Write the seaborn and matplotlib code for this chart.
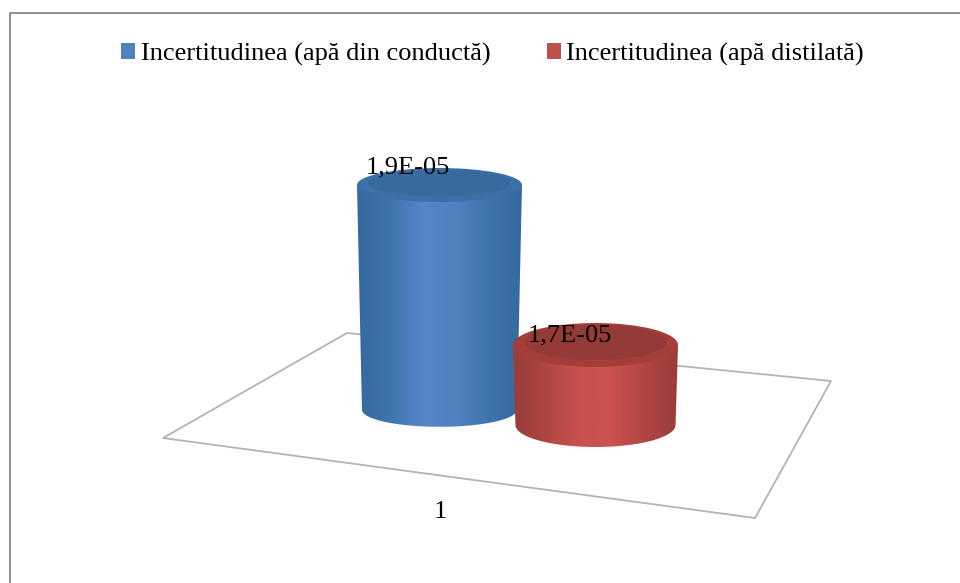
import numpy as np
import pandas as pd
import matplotlib
matplotlib.use("Agg")
import matplotlib.pyplot as plt
import seaborn as sns
from matplotlib.colors import LinearSegmentedColormap
from matplotlib.lines import Line2D
from matplotlib.patches import Ellipse, PathPatch, Polygon
from matplotlib.path import Path

# values
CATEGORY = ["1", "1"]
SERIES = ["Incertitudinea (apă din conductă)", "Incertitudinea (apă distilată)"]
VALUES = [1.9e-05, 1.7e-05]
VALUE_LABELS = ["1,9E-05", "1,7E-05"]
BASE_COLORS = ["#4F81BD", "#C0504D"]

# styling of the fake 3D cylinders
FLOOR_LEVELS = [1.619e-05, 1.6e-05]
BASE_WIDTH_SCALE = [0.94, 0.97]
SIDE_SHADES = [["#35699f", "#3f74ad", "#5587c8", "#4f82c0", "#3f74ad", "#35699f"],
               ["#9a3c39", "#b04643", "#c9524f", "#cb524f", "#b04643", "#9a3c39"]]
RIM_COLORS = ["#3b70a8", "#a33e3a"]
CAP_COLORS = ["#386a9e", "#943a37"]
CAP_RY = [17, 22]
LABEL_SHIFT = [(-32, 18), (-26, 10)]

W, H = 960, 583
PX_PER_UNIT_Y = 80e6
PX_PER_UNIT_X = 390

sns.set_theme(style="white")
plt.rcParams["font.family"] = ["Liberation Serif", "DejaVu Serif"]

fig = plt.figure(figsize=(W / 100, H / 100), dpi=100)

# background layer in pixels: frame and floor
bg = fig.add_axes([0, 0, 1, 1])
bg.set_xlim(0, W)
bg.set_ylim(H, 0)
bg.axis("off")
bg.add_line(Line2D([9.5, 9.5, W], [H, 12.5, 12.5], color="#868686", lw=1.3))
bg.add_patch(Polygon([(163, 438), (347, 333), (831, 381), (755, 518)], closed=True,
                     fill=False, ec="#b4b4b4", lw=1.3))

ax = fig.add_axes([0, 0, 1, 1])
ax.patch.set_alpha(0)

df = pd.DataFrame({"cat": CATEGORY, "series": SERIES, "value": VALUES})
sns.barplot(data=df, x="cat", y="value", hue="series", hue_order=SERIES, palette=BASE_COLORS,
            width=0.8, gap=-0.0577, saturation=1, ax=ax)

xlim = (-517.5 / PX_PER_UNIT_X, (W - 517.5) / PX_PER_UNIT_X)
ylim = (1.9e-05 - (H - 185) / PX_PER_UNIT_Y, 1.9e-05 + 185 / PX_PER_UNIT_Y)

bars = [p for p in ax.patches if p.get_height() > 0]
for i, bar in enumerate(bars):
    z = 2 + i * 2
    x0, w, top = bar.get_x(), bar.get_width(), bar.get_height()
    base = FLOOR_LEVELS[i]
    cx = x0 + w / 2
    ry = CAP_RY[i] / PX_PER_UNIT_Y
    bar.set_y(base)
    bar.set_height(top - base)
    bar.set_visible(False)

    # side of the cylinder: gradient clipped to the body plus lower half ellipse
    half = w / 2 * BASE_WIDTH_SCALE[i]
    t = np.linspace(np.pi, 2 * np.pi, 60)
    verts = [(x0, top)] + list(zip(cx + half * np.cos(t), base + ry * np.sin(t))) + [(x0 + w, top), (x0, top)]
    side = PathPatch(Path(verts), fc="none", ec="none", transform=ax.transData)
    ax.add_patch(side)
    cmap = LinearSegmentedColormap.from_list("side", SIDE_SHADES[i])
    im = ax.imshow(np.linspace(0, 1, 200).reshape(1, -1), cmap=cmap, aspect="auto", zorder=z,
                   extent=(x0, x0 + w, base - ry, top))
    im.set_clip_path(side)

    # top of the cylinder
    ax.add_patch(Ellipse((cx, top), w, 2 * ry, fc=RIM_COLORS[i], ec="none", zorder=z + 0.1))
    ax.add_patch(Ellipse((cx, top + ry * 0.12), w * 0.86, 1.6 * ry, fc=CAP_COLORS[i], ec="none", zorder=z + 0.2))

    dx, dy = LABEL_SHIFT[i]
    ax.text(cx + dx / PX_PER_UNIT_X, top + dy / PX_PER_UNIT_Y, VALUE_LABELS[i], ha="center", va="center",
            fontsize=19, color="black", zorder=10)

ax.set_xlim(xlim)
ax.set_ylim(ylim)
ax.axis("off")

# category label under the floor
ax.text((440 - 517.5) / PX_PER_UNIT_X, 1.9e-05 - (512 - 185) / PX_PER_UNIT_Y, CATEGORY[0],
        ha="center", va="center", fontsize=19, color="black", zorder=10)

handles, labels = ax.get_legend_handles_labels()
leg = ax.legend(handles, labels, ncol=2, frameon=False, fontsize=19, loc="center left",
                bbox_to_anchor=(121 / W, 1 - 54 / H), borderaxespad=0, borderpad=0, labelcolor="black",
                handlelength=0.53, handleheight=0.53, handletextpad=0.22, columnspacing=2.13)
for h in leg.legend_handles:
    h.set_edgecolor("none")

fig.savefig("out.png", dpi=100)
